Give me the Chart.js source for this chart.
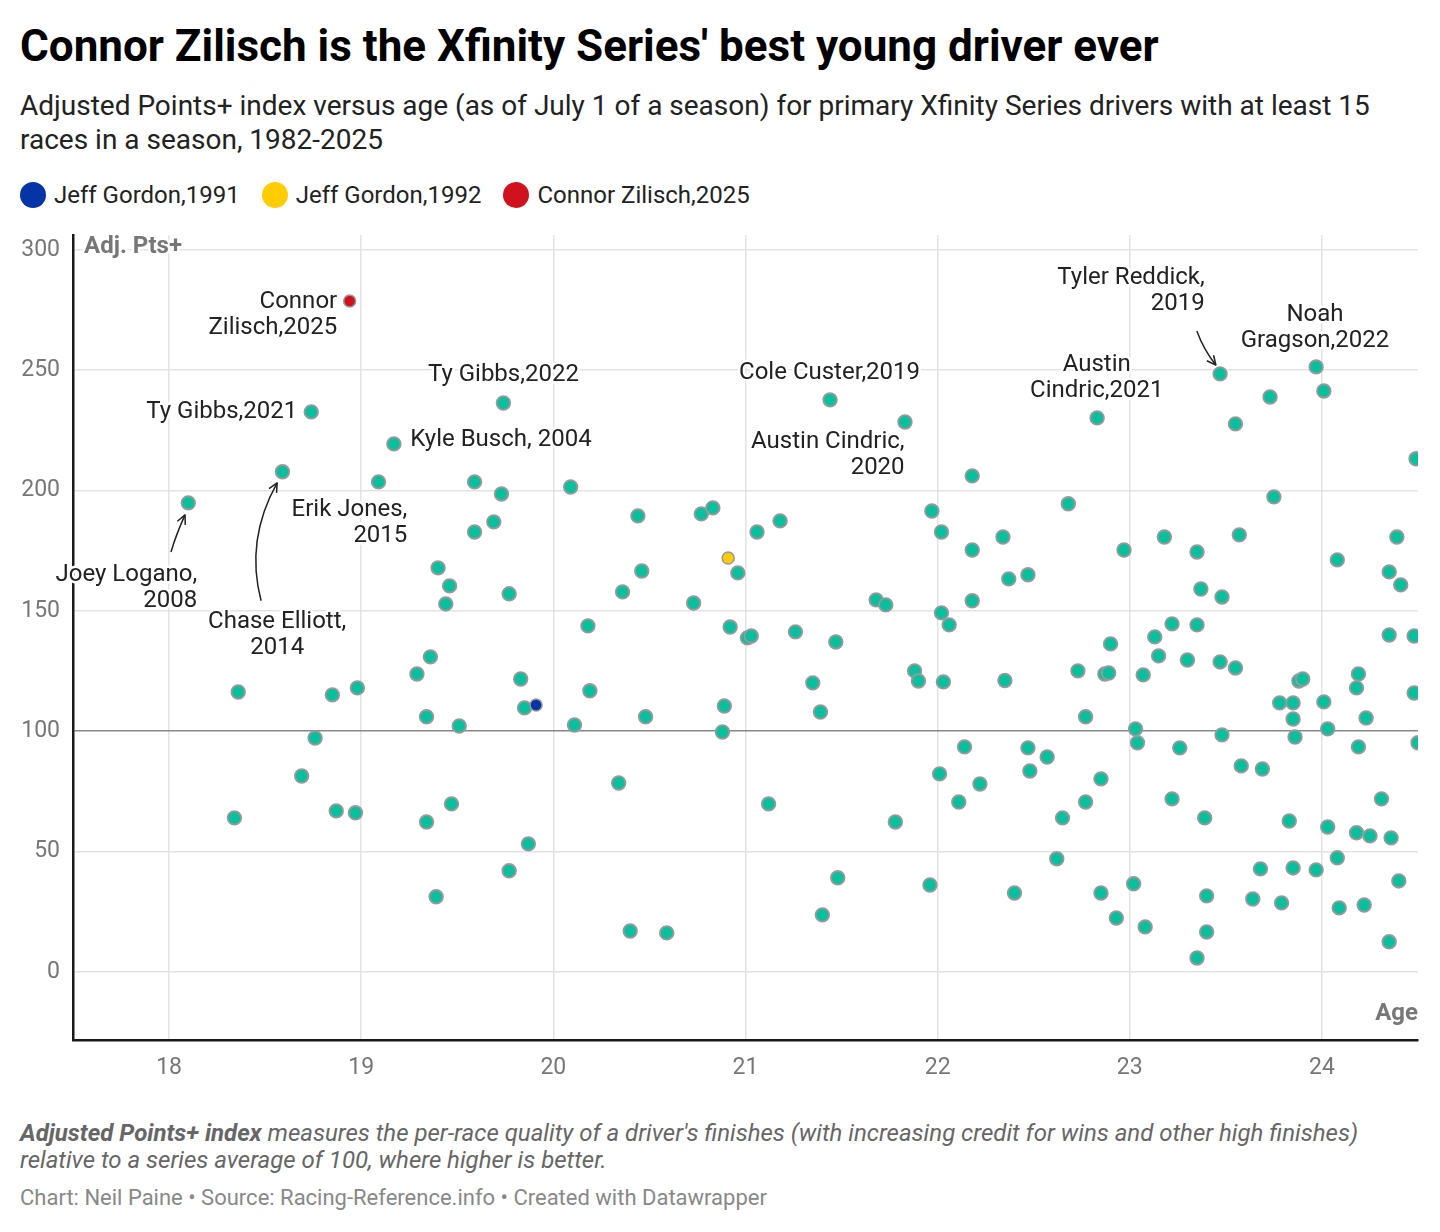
<!DOCTYPE html>
<html>
<head>
<meta charset="utf-8">
<script src="https://cdn.jsdelivr.net/npm/chart.js@4"></script>
<style>
  body { margin: 0; background: #fff; font-family: Roboto, sans-serif; color: #000; }
  .page { position: relative; width: 1440px; height: 1232px; overflow: hidden; }
  .title { position: absolute; left: 20px; top: 20px; font-size: 44px; line-height: 52px; font-weight: 700; color: #000; white-space: nowrap; }
  .subtitle { position: absolute; left: 20px; top: 89px; width: 1400px; font-size: 28px; line-height: 34px; color: #222; }
  .legend { position: absolute; left: 20px; top: 182px; display: flex; align-items: center; font-size: 24px; line-height: 26px; color: #222; }
  .legend-item { display: flex; align-items: center; margin-right: 22px; }
  .legend-item span.dot { width: 26px; height: 26px; border-radius: 50%; margin-right: 8px; }
  .chart-box { position: absolute; left: 0; top: 220px; width: 1440px; height: 870px; }
  .notes { position: absolute; left: 20px; top: 1120px; width: 1400px; font-size: 24px; line-height: 27px; font-style: italic; color: #666; }
  .source { position: absolute; left: 20px; top: 1185px; font-size: 22px; line-height: 26px; color: #888; }
</style>
</head>
<body>
<div class="page">
  <div class="title">Connor Zilisch is the Xfinity Series' best young driver ever</div>
  <div class="subtitle">Adjusted Points+ index versus age (as of July 1 of a season) for primary Xfinity Series drivers with at least 15 races in a season, 1982-2025</div>
  <div class="legend" id="legend"></div>
  <div class="chart-box"><canvas id="ageChart"></canvas></div>
  <div class="notes"><b>Adjusted Points+ index</b> measures the per-race quality of a driver's finishes (with increasing credit for wins and other high finishes) relative to a series average of 100, where higher is better.</div>
  <div class="source">Chart: Neil Paine • Source: Racing-Reference.info • Created with Datawrapper</div>
</div>
<script>
// all other driver-seasons: age (as of July 1) and Adj. Pts+
const ages = [
  18.10, 18.34, 18.36, 18.59, 18.69, 18.74, 18.76, 18.85, 18.87, 18.97,
  18.98, 19.09, 19.17, 19.29, 19.34, 19.34, 19.36, 19.39, 19.40, 19.44,
  19.46, 19.47, 19.51, 19.59, 19.59, 19.69, 19.73, 19.74, 19.77, 19.77,
  19.83, 19.85, 19.87, 20.09, 20.11, 20.18, 20.19, 20.34, 20.36, 20.40,
  20.44, 20.46, 20.48, 20.59, 20.73, 20.77, 20.83, 20.88, 20.89, 20.92,
  20.96, 21.01, 21.03, 21.06, 21.12, 21.18, 21.26, 21.35, 21.39, 21.40,
  21.44, 21.47, 21.48, 21.68, 21.73, 21.78, 21.83, 21.88, 21.90, 21.96,
  21.97, 22.01, 22.02, 22.02, 22.03, 22.06, 22.11, 22.14, 22.18, 22.18,
  22.18, 22.22, 22.34, 22.35, 22.37, 22.40, 22.47, 22.47, 22.48, 22.57,
  22.62, 22.65, 22.68, 22.73, 22.77, 22.77, 22.83, 22.85, 22.85, 22.87,
  22.89, 22.90, 22.93, 22.97, 23.02, 23.03, 23.04, 23.07, 23.08, 23.13,
  23.15, 23.18, 23.22, 23.22, 23.26, 23.30, 23.35, 23.35, 23.35, 23.37,
  23.39, 23.40, 23.40, 23.47, 23.47, 23.48, 23.48, 23.55, 23.55, 23.57,
  23.58, 23.64, 23.68, 23.69, 23.73, 23.75, 23.78, 23.79, 23.83, 23.85,
  23.85, 23.85, 23.86, 23.88, 23.90, 23.97, 23.97, 24.01, 24.01, 24.03,
  24.03, 24.08, 24.08, 24.09, 24.18, 24.18, 24.19, 24.19, 24.22, 24.23,
  24.25, 24.31, 24.35, 24.35, 24.35, 24.36, 24.39, 24.40, 24.41, 24.48,
  24.48, 24.49, 24.50, 24.51, 24.51
];
const adjPts = [
  194.9, 64.0, 116.3, 207.8, 81.4, 232.7, 97.2, 115.1, 66.9, 66.1,
  118.0, 203.6, 219.4, 123.8, 106.0, 62.3, 130.9, 31.2, 167.9, 152.9,
  160.4, 69.8, 102.2, 203.6, 182.8, 187.0, 198.6, 236.4, 157.1, 42.0,
  121.7, 109.7, 53.2, 201.5, 102.6, 143.8, 116.8, 78.5, 157.9, 17.0,
  189.5, 166.6, 106.0, 16.2, 153.3, 190.3, 192.8, 99.7, 110.5, 143.3,
  165.8, 138.8, 139.6, 182.8, 69.8, 187.4, 141.3, 120.1, 108.0, 23.7,
  237.7, 137.1, 39.1, 154.6, 152.5, 62.3, 228.5, 125.1, 120.9, 36.1,
  191.5, 82.3, 182.8, 149.2, 120.5, 144.2, 70.6, 93.5, 206.1, 175.3,
  154.2, 78.1, 180.7, 121.1, 163.3, 32.8, 165.0, 93.1, 83.5, 89.3,
  47.0, 64.0, 194.5, 125.1, 106.0, 70.6, 230.2, 80.2, 32.8, 123.8,
  124.2, 136.3, 22.4, 175.3, 36.6, 101.0, 95.2, 123.4, 18.7, 139.2,
  131.3, 180.7, 144.6, 71.9, 93.1, 129.6, 174.5, 144.2, 5.8, 159.1,
  64.0, 31.6, 16.6, 248.5, 128.8, 155.8, 98.5, 227.7, 126.3, 181.6,
  85.6, 30.3, 42.8, 84.3, 238.9, 197.4, 111.8, 28.7, 62.7, 111.8,
  105.1, 43.2, 97.6, 120.9, 121.7, 251.4, 42.4, 241.4, 112.2, 101.0,
  60.2, 171.2, 47.4, 26.6, 118.0, 57.8, 123.8, 93.5, 27.8, 105.5,
  56.5, 71.9, 166.2, 140.0, 12.5, 55.7, 180.7, 37.8, 160.8, 139.6,
  115.9, 213.2, 95.2, 247.0, 185.0
];

// highlighted seasons
const highlightNames = ['Jeff Gordon,1991', 'Jeff Gordon,1992', 'Connor Zilisch,2025'];
const highlightAges = [19.91, 20.91, 18.94];
const highlightPts = [110.9, 172.0, 278.8];
const highlightColors = ['#0534a6', '#ffcc00', '#d0121e'];

const xTicks = [18, 19, 20, 21, 22, 23, 24];
const yTicks = [0, 50, 100, 150, 200, 250, 300];

// text labels: first-line anchor in data units
const labelText = [
  ['Connor', 'Zilisch,2025'], ['Ty Gibbs,2021'], ['Ty Gibbs,2022'], ['Kyle Busch, 2004'],
  ['Erik Jones,', '2015'], ['Joey Logano,', '2008'], ['Chase Elliott,', '2014'],
  ['Cole Custer,2019'], ['Austin Cindric,', '2020'], ['Austin', 'Cindric,2021'],
  ['Tyler Reddick,', '2019'], ['Noah', 'Gragson,2022']
];
const labelAge = [18.875, 18.667, 19.74, 19.255, 19.24, 18.146, 18.5625, 21.4375, 21.828, 22.828, 23.39, 23.964];
const labelPts = [278.4, 232.7, 248.1, 221.0, 192.0, 165.0, 145.4, 248.9, 220.2, 252.2, 288.4, 273.0];
const labelAlign = ['right', 'right', 'center', 'left', 'right', 'right', 'center', 'center', 'right', 'center', 'right', 'center'];

// arrows: start, control, end (data units)
const arrows = [
  [[18.010, 174.5], [18.036, 181.6], [18.083, 189.9]],
  [[18.479, 154.2], [18.396, 179.5], [18.5625, 203.2]],
  [[23.349, 266.3], [23.385, 258.4], [23.448, 252.2]]
];

const legendBox = document.getElementById('legend');
highlightNames.forEach((name, i) => {
    const item = document.createElement('div');
    item.className = 'legend-item';
    item.innerHTML = `<span class="dot" style="background:${highlightColors[i]}"></span><span>${name}</span>`;
    legendBox.appendChild(item);
});

const annotationPlugin = {
    id: 'annotations',
    afterDatasetsDraw(chart) {
        const ctx = chart.ctx;
        const xs = chart.scales.x, ys = chart.scales.y;
        const area = chart.chartArea;
        ctx.save();

        // axis titles
        ctx.font = 'bold 24px Roboto';
        ctx.fillStyle = '#777';
        ctx.strokeStyle = '#fff';
        ctx.lineWidth = 5;
        ctx.lineJoin = 'round';
        ctx.textBaseline = 'middle';
        ctx.textAlign = 'left';
        ctx.strokeText('Adj. Pts+', area.left + 11, area.top + 12);
        ctx.fillText('Adj. Pts+', area.left + 11, area.top + 12);
        ctx.textAlign = 'right';
        ctx.strokeText('Age', area.right, area.bottom - 26);
        ctx.fillText('Age', area.right, area.bottom - 26);

        // labels
        ctx.font = '24px Roboto';
        ctx.fillStyle = '#222';
        labelText.forEach((lines, i) => {
            const x = xs.getPixelForValue(labelAge[i]);
            const y = ys.getPixelForValue(labelPts[i]);
            ctx.textAlign = labelAlign[i];
            lines.forEach((line, j) => {
                ctx.strokeText(line, x, y + j * 26);
                ctx.fillText(line, x, y + j * 26);
            });
        });

        // arrows
        ctx.strokeStyle = '#222';
        ctx.lineWidth = 1.5;
        arrows.forEach(a => {
            const p = a.map(pt => [xs.getPixelForValue(pt[0]), ys.getPixelForValue(pt[1])]);
            ctx.beginPath();
            ctx.moveTo(p[0][0], p[0][1]);
            ctx.quadraticCurveTo(p[1][0], p[1][1], p[2][0], p[2][1]);
            ctx.stroke();
            const ang = Math.atan2(p[2][1] - p[1][1], p[2][0] - p[1][0]);
            ctx.beginPath();
            ctx.moveTo(p[2][0] - 10 * Math.cos(ang - 0.45), p[2][1] - 10 * Math.sin(ang - 0.45));
            ctx.lineTo(p[2][0], p[2][1]);
            ctx.lineTo(p[2][0] - 10 * Math.cos(ang + 0.45), p[2][1] - 10 * Math.sin(ang + 0.45));
            ctx.stroke();
        });
        ctx.restore();
    }
};

const ctx = document.getElementById('ageChart').getContext('2d');
new Chart(ctx, {
    type: 'scatter',
    data: {
        datasets: [
            {
                label: 'Highlighted',
                data: highlightAges.map((a, i) => ({ x: a, y: highlightPts[i] })),
                backgroundColor: highlightColors,
                borderColor: '#999',
                borderWidth: 1.5,
                pointRadius: 6,
                order: 0
            },
            {
                label: 'Drivers',
                data: ages.map((a, i) => ({ x: a, y: adjPts[i] })),
                backgroundColor: '#0abf9d',
                borderColor: '#999',
                borderWidth: 1.8,
                pointRadius: 6.8,
                clip: 0,
                order: 1
            }
        ]
    },
    options: {
        responsive: true,
        maintainAspectRatio: false,
        animation: false,
        layout: { padding: { top: 15, right: 22, left: 0, bottom: 0 } },
        plugins: {
            legend: { display: false },
            tooltip: { enabled: false }
        },
        scales: {
            x: {
                type: 'linear',
                min: 17.5,
                max: 24.5,
                afterBuildTicks: scale => { scale.ticks = xTicks.map(v => ({ value: v })); },
                afterFit: scale => { scale.height = 50; scale.paddingLeft = 0; scale.paddingRight = 0; },
                ticks: {
                    color: '#777',
                    padding: 14,
                    font: { family: 'Roboto', size: 23 }
                },
                grid: { color: '#e3e3e3', lineWidth: 1.5, drawTicks: false },
                border: { display: true, color: '#1a1a1a', width: 2.5 }
            },
            y: {
                min: -28.3,
                max: 306.2,
                afterBuildTicks: scale => { scale.ticks = yTicks.map(v => ({ value: v })); },
                afterFit: scale => { scale.width = 73; scale.paddingTop = 0; scale.paddingBottom = 0; },
                ticks: {
                    color: '#777',
                    padding: 13,
                    font: { family: 'Roboto', size: 23 }
                },
                grid: {
                    color: c => c.tick && c.tick.value === 100 ? '#888' : '#e3e3e3',
                    lineWidth: 1.5,
                    drawTicks: false
                },
                border: { display: true, color: '#1a1a1a', width: 2.5 }
            }
        }
    },
    plugins: [annotationPlugin]
});
</script>
</body>
</html>
